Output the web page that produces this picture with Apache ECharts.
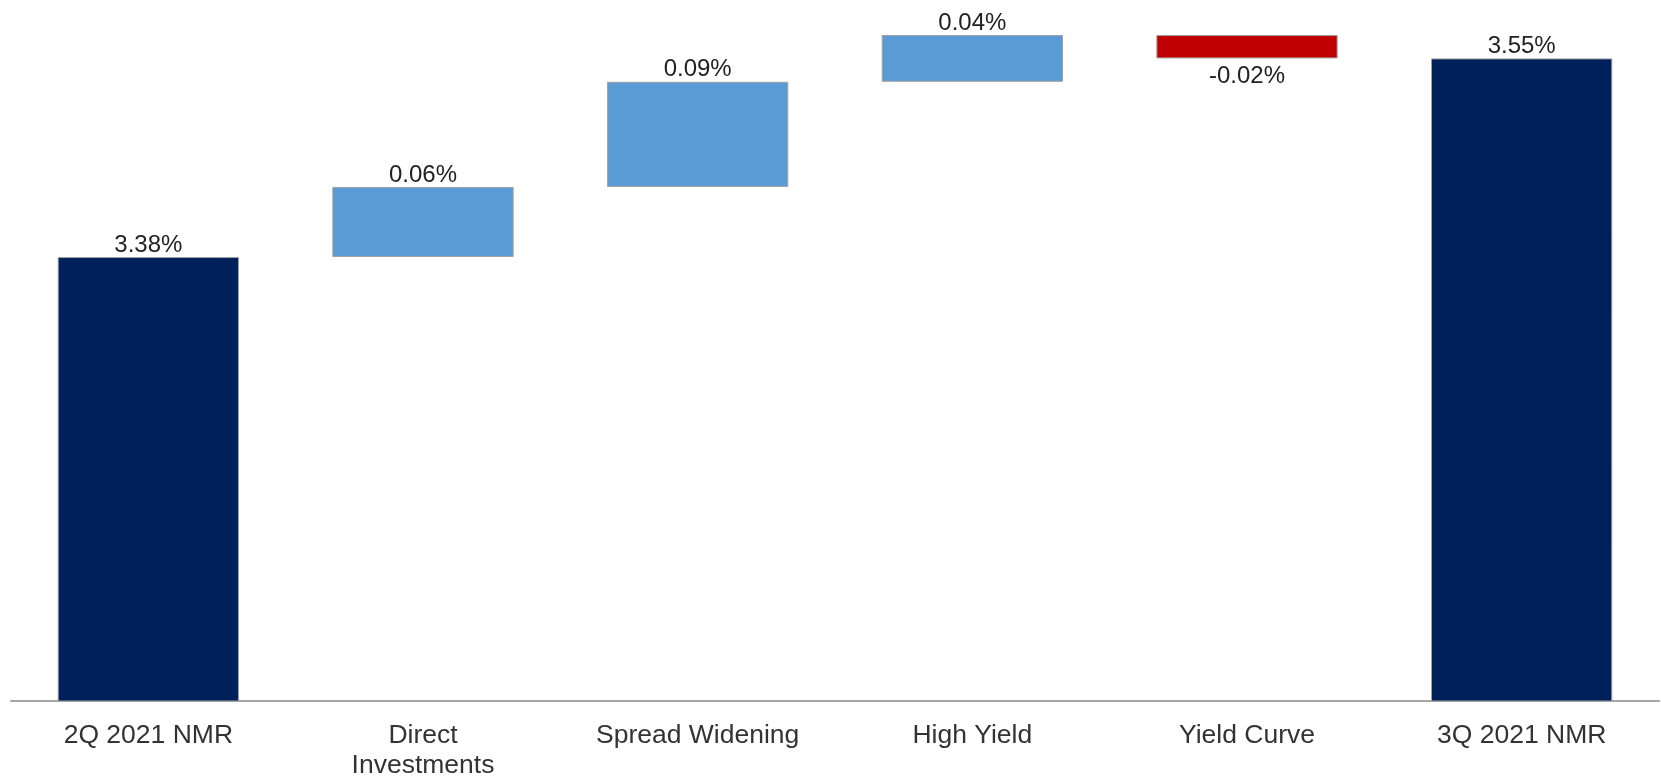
<!DOCTYPE html>
<html>
<head>
<meta charset="utf-8">
<script src="https://cdn.jsdelivr.net/npm/echarts@6/dist/echarts.min.js"></script>
<style>html,body{margin:0;padding:0;background:#fff;}#c{width:1661px;height:780px;}</style>
</head>
<body>
<div id="c"></div>
<script>
var categories = ['2Q 2021 NMR', 'Direct\nInvestments', 'Spread Widening', 'High Yield', 'Yield Curve', '3Q 2021 NMR'];
var startValue = 3.38;
var deltas = [0.06, 0.09, 0.04, -0.02];
var endValue = 3.55;
var labels = ['3.38%', '0.06%', '0.09%', '0.04%', '-0.02%', '3.55%'];

var NAVY = '#00205B', BLUE = '#5B9BD5', RED = '#C00000';
var baseData = [], barData = [];
baseData.push(0);
barData.push({value: startValue, itemStyle: {color: NAVY}, label: {position: 'top', formatter: labels[0]}});
var cum = startValue;
deltas.forEach(function (d, i) {
  var lo = d >= 0 ? cum : cum + d;
  baseData.push(+lo.toFixed(4));
  barData.push({
    value: Math.abs(d),
    itemStyle: {color: d >= 0 ? BLUE : RED},
    label: {position: d >= 0 ? 'top' : 'bottom', formatter: labels[i + 1], distance: d >= 0 ? 0 : 6}
  });
  cum += d;
});
baseData.push(0);
barData.push({value: endValue, itemStyle: {color: NAVY}, label: {position: 'top', formatter: labels[5]}});

var chart = echarts.init(document.getElementById('c'));
chart.setOption({
  animation: false,
  textStyle: {fontFamily: 'Liberation Sans, Arial, sans-serif'},
  grid: {left: 11, right: 2, top: 0, bottom: 77},
  xAxis: {
    type: 'category',
    data: categories,
    axisLine: {show: true, lineStyle: {color: '#a6a6a6', width: 2}},
    axisTick: {show: false},
    axisLabel: {fontSize: 26.5, color: '#333', margin: 20, lineHeight: 29.5, interval: 0}
  },
  yAxis: {
    type: 'value', min: 3.0, max: 3.6, show: false,
    splitLine: {show: false}
  },
  series: [
    {
      type: 'bar', stack: 'w', data: baseData, barWidth: '66%',
      itemStyle: {color: 'transparent'}, silent: true, z: 1
    },
    {
      type: 'bar', stack: 'w', data: barData, barWidth: '66%',
      itemStyle: {borderColor: '#a0a0a0', borderWidth: 1},
      label: {show: true, fontSize: 24, color: '#222', distance: 0},
      z: 2
    }
  ]
});
</script>
</body>
</html>
